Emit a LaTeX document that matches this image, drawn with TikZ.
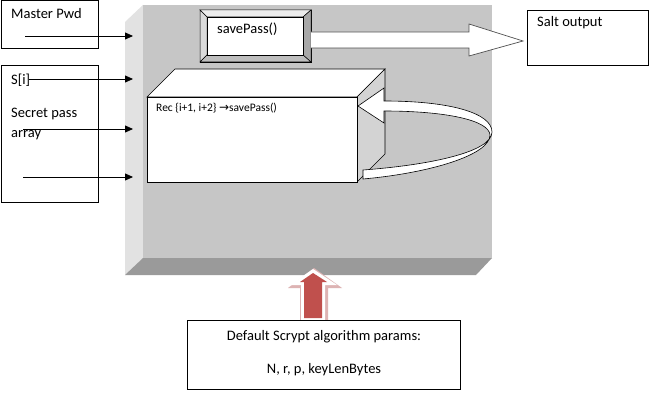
\documentclass[tikz,border=0pt]{standalone}
\usepackage{fontspec}
\setmainfont{Carlito}
\newfontfamily\symf{DejaVu Sans}
\usetikzlibrary{arrows.meta}
\definecolor{platfront}{HTML}{C6C6C6}
\definecolor{platleft}{HTML}{E2E2E2}
\definecolor{platbottom}{HTML}{9A9A9A}
\definecolor{cubeside}{HTML}{D3D3D3}
\definecolor{bevlight}{HTML}{EDEDED}
\definecolor{bevleft}{HTML}{DADADA}
\definecolor{bevright}{HTML}{A8A8A8}
\definecolor{bevbottom}{HTML}{BEBEBE}
\definecolor{redarrow}{HTML}{C0504D}
\definecolor{redglow}{HTML}{DDB3B3}
\definecolor{blockedge}{HTML}{505050}
\begin{document}
\begin{tikzpicture}[x=1pt,y=-1pt,
  box/.style={draw=black, line width=0.8pt, fill=white, inner sep=0pt, anchor=north west},
  lbl/.style={anchor=base west, inner sep=0pt, font=\fontsize{14.5}{17}\selectfont},
  clbl/.style={anchor=base, inner sep=0pt, font=\fontsize{14.5}{17}\selectfont},
  inarrow/.style={-{Triangle[length=8pt,width=7pt]}, line width=0.8pt}]
\useasboundingbox (0,0) rectangle (660,403);
\fill[white] (0,0) rectangle (660,403);

% platform
\fill[platleft] (125,22) -- (143,5) -- (143,258) -- (125,275) -- cycle;
\fill[platbottom] (143,258) -- (492,258) -- (476,275) -- (125,275) -- cycle;
\node[fill=platfront, minimum width=349pt, minimum height=253pt, anchor=north west, inner sep=0pt] (plat) at (143,5) {};

% input boxes
\node[box, minimum width=97pt, minimum height=48pt] (master) at (0.5,0.5) {};
\node[lbl] (mastert) at (11,19) {Master Pwd};
\node[box, minimum width=97pt, minimum height=137pt] (secret) at (0.5,65) {};
\node[lbl] (si) at (11,85) {S[i]};
\node[lbl] (sp1) at (11,118) {Secret pass};
\node[lbl] (sp2) at (11,138) {array};

\coordinate (a1s) at (25,36);  \coordinate (a1e) at (133,36);
\coordinate (a2s) at (29,79);  \coordinate (a2e) at (133,79);
\coordinate (a3s) at (23,129); \coordinate (a3e) at (133,129);
\coordinate (a4s) at (23,177); \coordinate (a4e) at (133,177);
\draw[inarrow] (a1s) -- (a1e);
\draw[inarrow] (a2s) -- (a2e);
\draw[inarrow] (a3s) -- (a3e);
\draw[inarrow] (a4s) -- (a4e);

% savePass bevel box
\node[draw=black, line width=0.6pt, fill=white, minimum width=111pt, minimum height=52pt, anchor=north west, inner sep=0pt] (spouter) at (200,10) {};
\filldraw[fill=bevlight, draw=black, line width=0.5pt] (200,10) -- (311,10) -- (303,17) -- (207,17) -- cycle;
\filldraw[fill=bevleft, draw=black, line width=0.5pt] (200,10) -- (207,17) -- (207,55) -- (200,62) -- cycle;
\filldraw[fill=bevright, draw=black, line width=0.5pt] (311,10) -- (311,62) -- (303,55) -- (303,17) -- cycle;
\filldraw[fill=bevbottom, draw=black, line width=0.5pt] (200,62) -- (311,62) -- (303,55) -- (207,55) -- cycle;
\node[draw=black, line width=0.6pt, fill=white, minimum width=96pt, minimum height=38pt, anchor=north west, inner sep=0pt] (sp) at (207,17) {};
\node[lbl] (spt) at (217,34) {savePass()};

% block arrow to salt output
\filldraw[fill=white, draw=blockedge, line width=0.7pt] (311,32) -- (469,32) -- (469,24) -- (523,41) -- (469,56) -- (469,48) -- (311,48);

\node[box, minimum width=121pt, minimum height=55pt] (salt) at (527,10) {};
\node[lbl] (saltt) at (537,27) {Salt output};

% Rec cube
\filldraw[fill=white, draw=black, line width=0.6pt] (147,97) -- (175,69) -- (385,69) -- (357,97) -- cycle;
\filldraw[fill=cubeside, draw=black, line width=0.6pt] (357,97) -- (385,69) -- (385,154) -- (357,182) -- cycle;
\node[draw=black, line width=0.6pt, fill=white, minimum width=210pt, minimum height=85pt, anchor=north west, inner sep=0pt] (rec) at (147,97) {};
\node[anchor=base west, inner sep=0pt, font=\fontsize{11.5}{14}\selectfont] (rect) at (156,112) {Rec \{i+1, i+2\} {\symf\fontsize{12}{14}\selectfont →}savePass()};

% curved return arrow
\filldraw[fill=white, draw=black, line width=0.6pt]
  (363,170) .. controls (430,165) and (492,152) .. (492,132)
  .. controls (492,113) and (450,101) .. (384,101)
  -- (384,88) -- (358,106) -- (384,123) -- (384,111)
  .. controls (445,111) and (489,120) .. (490,135)
  .. controls (490,155) and (430,173) .. (363,179) -- cycle;

% red up arrow
\fill[redglow] (288,288) -- (314,268) -- (342,288) -- (328,288) -- (328,321) -- (300,321) -- (300,288) -- cycle;
\fill[white] (290,285) -- (313,269) -- (337,285) -- (325,285) -- (325,320) -- (301,320) -- (301,285) -- cycle;
\fill[redarrow] (300,282) -- (313,273) -- (327,282) -- (322,282) -- (322,318) -- (304,318) -- (304,282) -- cycle;

% params box
\node[box, minimum width=273pt, minimum height=69pt] (params) at (187,320) {};
\node[clbl] (pt1) at (324,340) {Default Scrypt algorithm params:};
\node[clbl] (pt2) at (324,373) {N, r, p, keyLenBytes};
\end{tikzpicture}
\end{document}
